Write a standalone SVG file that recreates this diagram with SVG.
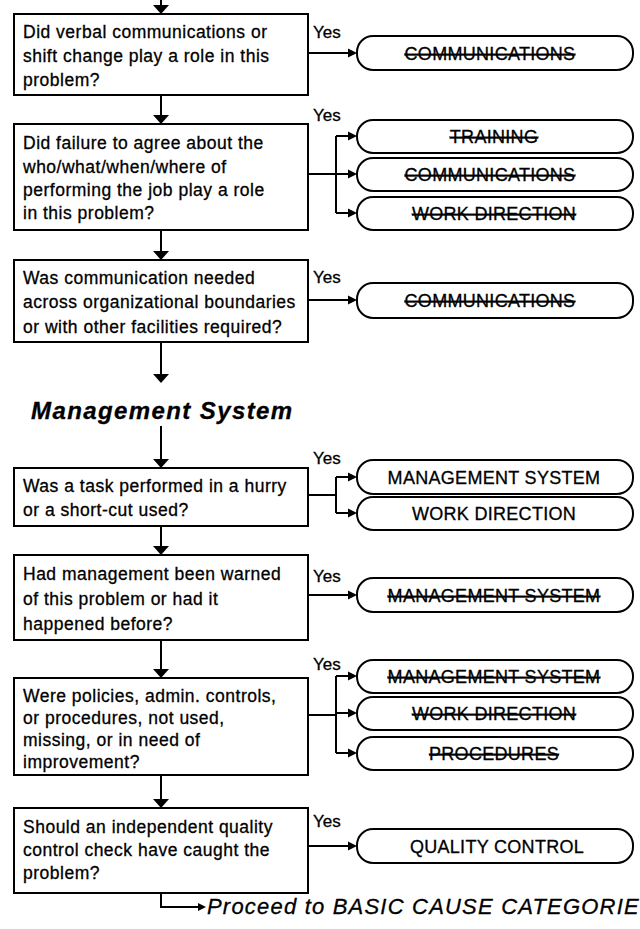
<svg xmlns="http://www.w3.org/2000/svg" width="640" height="929" viewBox="0 0 640 929">
<style>
  .box { fill: #fff; stroke: #000; stroke-width: 2; }
  .pill { fill: #fff; stroke: #000; stroke-width: 2; }
  text { stroke: #000; stroke-width: 0.3px; }
  .q { font-family: "Liberation Sans", Arial, sans-serif; font-size: 17.5px; letter-spacing: 0.5px; fill: #000; }
  .yes { font-family: "Liberation Sans", Arial, sans-serif; font-size: 17px; fill: #000; }
  .cat { font-family: "Liberation Sans", Arial, sans-serif; font-size: 18px; letter-spacing: 0.3px; fill: #000; text-anchor: middle; }
  .struck { text-decoration: line-through; text-decoration-thickness: 2px; }
  .title { font-family: "Liberation Sans", Arial, sans-serif; font-size: 24px; font-weight: bold; font-style: italic; letter-spacing: 1.4px; fill: #000; }
  .proceed { font-family: "Liberation Sans", Arial, sans-serif; font-size: 22px; font-style: italic; letter-spacing: 1.2px; fill: #000; }
  .line { fill: none; stroke: #000; stroke-width: 2; }
  .head { fill: #000; stroke: none; }
</style>
<rect width="640" height="929" fill="#fff"/>

<g id="connectors">
  <path class="line" d="M161,0 V8"/>
  <path class="head" d="M153,5 H169 L161,14 Z"/>
  <path class="line" d="M161,95 V118"/>
  <path class="head" d="M153,115 H169 L161,124 Z"/>
  <path class="line" d="M161,230 V254"/>
  <path class="head" d="M153,251 H169 L161,260 Z"/>
  <path class="line" d="M161,342 V378"/>
  <path class="head" d="M153,374 H169 L161,383 Z"/>
  <path class="line" d="M161,426 V462"/>
  <path class="head" d="M153,459 H169 L161,468 Z"/>
  <path class="line" d="M161,526 V549"/>
  <path class="head" d="M153,546 H169 L161,555 Z"/>
  <path class="line" d="M161,640 V672"/>
  <path class="head" d="M153,669 H169 L161,678 Z"/>
  <path class="line" d="M161,775 V802"/>
  <path class="head" d="M153,799 H169 L161,808 Z"/>
  <path class="line" d="M161,893 V907 H199"/>
  <path class="head" d="M198,903 L206,907 L198,911 Z"/>

  <path class="line" d="M308,53 H350"/>
  <path class="head" d="M348,48.5 L357,53 L348,57.5 Z"/>

  <path class="line" d="M308,174 H336 M336,136 V213 M336,136 H350 M336,174 H350 M336,213 H350"/>
  <path class="head" d="M348,131.5 L357,136 L348,140.5 Z"/>
  <path class="head" d="M348,169.5 L357,174 L348,178.5 Z"/>
  <path class="head" d="M348,208.5 L357,213 L348,217.5 Z"/>

  <path class="line" d="M308,300 H350"/>
  <path class="head" d="M348,295.5 L357,300 L348,304.5 Z"/>

  <path class="line" d="M308,495 H336 M336,477 V513 M336,477 H350 M336,513 H350"/>
  <path class="head" d="M348,472.5 L357,477 L348,481.5 Z"/>
  <path class="head" d="M348,508.5 L357,513 L348,517.5 Z"/>

  <path class="line" d="M308,595 H350"/>
  <path class="head" d="M348,590.5 L357,595 L348,599.5 Z"/>

  <path class="line" d="M308,715 H336 M336,676 V753 M336,676 H350 M336,713 H350 M336,753 H350"/>
  <path class="head" d="M348,671.5 L357,676 L348,680.5 Z"/>
  <path class="head" d="M348,708.5 L357,713 L348,717.5 Z"/>
  <path class="head" d="M348,748.5 L357,753 L348,757.5 Z"/>

  <path class="line" d="M308,846 H350"/>
  <path class="head" d="M348,841.5 L357,846 L348,850.5 Z"/>
</g>

<g id="q1">
  <rect class="box" x="14" y="14" width="294" height="81"/>
  <text class="q" x="23" y="38">Did verbal communications or</text>
  <text class="q" x="23" y="62">shift change play a role in this</text>
  <text class="q" x="23" y="86">problem?</text>
  <text class="yes" x="313" y="38">Yes</text>
</g>
<g id="r1"><rect class="pill" x="357" y="36" width="276" height="34" rx="16"/><text class="cat struck" x="490" y="60">COMMUNICATIONS</text></g>

<g id="q2">
  <rect class="box" x="14" y="124" width="294" height="106"/>
  <text class="q" x="23" y="149">Did failure to agree about the</text>
  <text class="q" x="23" y="173">who/what/when/where of</text>
  <text class="q" x="23" y="196">performing the job play a role</text>
  <text class="q" x="23" y="219">in this problem?</text>
  <text class="yes" x="313" y="121">Yes</text>
</g>
<g id="r2a"><rect class="pill" x="357" y="120" width="276" height="33" rx="16"/><text class="cat struck" x="494" y="143">TRAINING</text></g>
<g id="r2b"><rect class="pill" x="357" y="158" width="276" height="33" rx="16"/><text class="cat struck" x="490" y="181">COMMUNICATIONS</text></g>
<g id="r2c"><rect class="pill" x="357" y="197" width="276" height="33" rx="16"/><text class="cat struck" x="494" y="220">WORK DIRECTION</text></g>

<g id="q3">
  <rect class="box" x="14" y="260" width="294" height="82"/>
  <text class="q" x="23" y="284">Was communication needed</text>
  <text class="q" x="23" y="308">across organizational boundaries</text>
  <text class="q" x="23" y="333">or with other facilities required?</text>
  <text class="yes" x="313" y="283">Yes</text>
</g>
<g id="r3"><rect class="pill" x="357" y="283" width="276" height="35" rx="16"/><text class="cat struck" x="490" y="307">COMMUNICATIONS</text></g>

<g id="title">
  <text class="title" x="31" y="419">Management System</text>
</g>

<g id="q4">
  <rect class="box" x="14" y="468" width="294" height="58"/>
  <text class="q" x="23" y="492">Was a task performed in a hurry</text>
  <text class="q" x="23" y="516">or a short-cut used?</text>
  <text class="yes" x="313" y="464">Yes</text>
</g>
<g id="r4a"><rect class="pill" x="357" y="460" width="276" height="34" rx="16"/><text class="cat" x="494" y="484">MANAGEMENT SYSTEM</text></g>
<g id="r4b"><rect class="pill" x="357" y="497" width="276" height="33" rx="16"/><text class="cat" x="494" y="520">WORK DIRECTION</text></g>

<g id="q5">
  <rect class="box" x="14" y="555" width="294" height="85"/>
  <text class="q" x="23" y="580">Had management been warned</text>
  <text class="q" x="23" y="605">of this problem or had it</text>
  <text class="q" x="23" y="630">happened before?</text>
  <text class="yes" x="313" y="582">Yes</text>
</g>
<g id="r5"><rect class="pill" x="357" y="578" width="276" height="34" rx="16"/><text class="cat struck" x="494" y="602">MANAGEMENT SYSTEM</text></g>

<g id="q6">
  <rect class="box" x="14" y="678" width="294" height="97"/>
  <text class="q" x="23" y="702">Were policies, admin. controls,</text>
  <text class="q" x="23" y="724">or procedures, not used,</text>
  <text class="q" x="23" y="746">missing, or in need of</text>
  <text class="q" x="23" y="768">improvement?</text>
  <text class="yes" x="313" y="670">Yes</text>
</g>
<g id="r6a"><rect class="pill" x="357" y="660" width="276" height="33" rx="16"/><text class="cat struck" x="494" y="683">MANAGEMENT SYSTEM</text></g>
<g id="r6b"><rect class="pill" x="357" y="697" width="276" height="33" rx="16"/><text class="cat struck" x="494" y="720">WORK DIRECTION</text></g>
<g id="r6c"><rect class="pill" x="357" y="737" width="276" height="33" rx="16"/><text class="cat struck" x="494" y="760">PROCEDURES</text></g>

<g id="q7">
  <rect class="box" x="14" y="808" width="294" height="85"/>
  <text class="q" x="23" y="833">Should an independent quality</text>
  <text class="q" x="23" y="856">control check have caught the</text>
  <text class="q" x="23" y="879">problem?</text>
  <text class="yes" x="313" y="827">Yes</text>
</g>
<g id="r7"><rect class="pill" x="357" y="829" width="276" height="34" rx="16"/><text class="cat" x="497" y="853">QUALITY CONTROL</text></g>

<g id="proceed">
  <text class="proceed" x="207" y="914">Proceed to BASIC CAUSE CATEGORIE</text>
</g>
</svg>
